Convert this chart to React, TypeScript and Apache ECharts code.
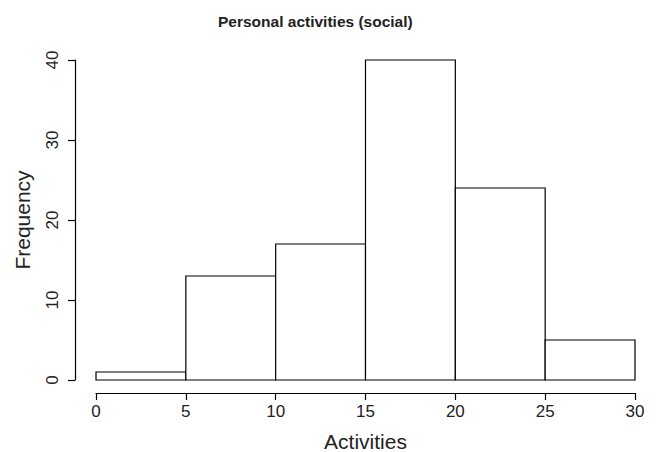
import React, { useEffect, useRef } from "react";
import * as echarts from "echarts";

// Histogram bins (lower / upper edges) and counts
const binStarts = [0, 5, 10, 15, 20, 25];
const binEnds = [5, 10, 15, 20, 25, 30];
const counts = [1, 13, 17, 40, 24, 5];

const xTicks = [0, 5, 10, 15, 20, 25, 30];
const yTicks = [0, 10, 20, 30, 40];

const titleText = "Personal activities (social)";
const xTitle = "Activities";
const yTitle = "Frequency";

const FONT = "Liberation Sans, Arial, Helvetica, sans-serif";
const INK = "#222222";

export default function App() {
  const ref = useRef<HTMLDivElement>(null);

  useEffect(() => {
    if (!ref.current) return;
    const chart = echarts.init(ref.current, undefined, { renderer: "svg" });

    const data = binStarts.map((s, i) => [s, binEnds[i], counts[i]]);

    chart.setOption({
      animation: false,
      backgroundColor: "#ffffff",
      title: {
        text: titleText,
        left: 213,
        top: 8,
        textStyle: {
          fontFamily: FONT,
          fontSize: 15.5,
          fontWeight: "bold",
          color: INK,
        },
      },
      grid: {
        left: 96,
        right: 21,
        top: 60,
        bottom: 72,
        containLabel: false,
        outerBoundsMode: "none",
      },
      xAxis: {
        type: "value",
        min: xTicks[0],
        max: xTicks[xTicks.length - 1],
        interval: 5,
        offset: 13,
        name: xTitle,
        nameLocation: "middle",
        nameGap: 38,
        nameTextStyle: { fontFamily: FONT, fontSize: 21, color: INK },
        axisLine: { show: true, onZero: false, lineStyle: { color: "#000", width: 1.2 } },
        axisTick: { show: true, length: 7, lineStyle: { color: "#000", width: 1.2 } },
        axisLabel: {
          fontFamily: FONT,
          fontSize: 17,
          color: INK,
          margin: 10,
          formatter: (v: number) => String(v),
        },
        splitLine: { show: false },
      },
      yAxis: {
        type: "value",
        min: yTicks[0],
        max: yTicks[yTicks.length - 1],
        interval: 10,
        offset: 21,
        name: yTitle,
        nameLocation: "middle",
        nameGap: 42,
        nameTextStyle: { fontFamily: FONT, fontSize: 21, color: INK },
        axisLine: { show: true, onZero: false, lineStyle: { color: "#000", width: 1.2 } },
        axisTick: { show: true, length: 7, lineStyle: { color: "#000", width: 1.2 } },
        axisLabel: {
          fontFamily: FONT,
          fontSize: 17,
          color: INK,
          rotate: 90,
          margin: 14,
          formatter: (v: number) => String(v),
        },
        splitLine: { show: false },
      },
      series: [
        {
          type: "custom",
          data,
          encode: { x: [0, 1], y: 2 },
          renderItem: (params: any, api: any) => {
            const p0 = api.coord([api.value(0), 0]);
            const p1 = api.coord([api.value(1), api.value(2)]);
            return {
              type: "rect",
              shape: {
                x: p0[0],
                y: p1[1],
                width: p1[0] - p0[0],
                height: p0[1] - p1[1],
              },
              style: { fill: "#ffffff", stroke: "#000000", lineWidth: 1.2 },
            };
          },
        },
      ],
    });

    return () => chart.dispose();
  }, []);

  return (
    <div
      ref={ref}
      style={{ position: "absolute", left: 0, top: 0, width: 656, height: 452 }}
    />
  );
}
